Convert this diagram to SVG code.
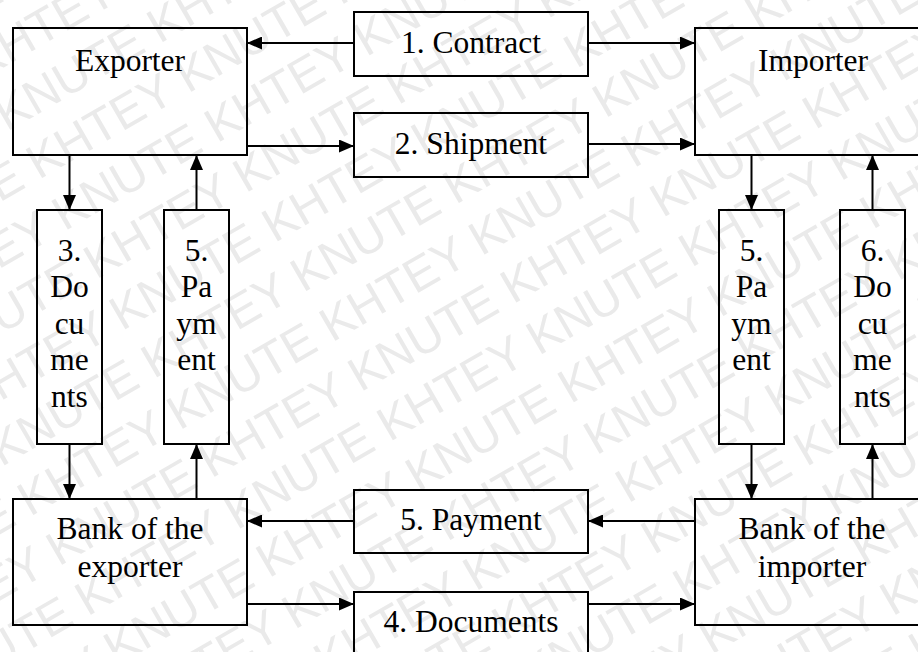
<svg xmlns="http://www.w3.org/2000/svg" width="918" height="652" viewBox="0 0 918 652">
  <style>
    .box { fill: none; stroke: #000; stroke-width: 2; }
    .lbl { font-family: "Liberation Serif", "Times New Roman", serif; font-size: 31.5px; fill: #000; text-anchor: middle; }
    .wm { font-family: "Liberation Sans", Arial, sans-serif; font-size: 48px; fill: #eaeaea; }
    .link { fill: none; stroke: #000; stroke-width: 2; marker-end: url(#arrow); }
  </style>
  <defs>
    <marker id="arrow" markerUnits="userSpaceOnUse" markerWidth="15" markerHeight="13" refX="15" refY="6.5" orient="auto">
      <path d="M0,0 L15,6.5 L0,13 Z" fill="#000"/>
    </marker>
  </defs>

  <rect width="918" height="652" fill="#fff"/>

  <!-- background watermark rows, alternating half-period offset -->
  <g id="watermark" transform="rotate(-30)">
    <text class="wm" x="-581" y="2.8" xml:space="preserve">KHTEY KNUTE KHTEY KNUTE KHTEY KNUTE KHTEY KNUTE KHTEY KNUTE KHTEY KNUTE</text>
    <text class="wm" x="-405" y="60.3" xml:space="preserve">KHTEY KNUTE KHTEY KNUTE KHTEY KNUTE KHTEY KNUTE KHTEY KNUTE KHTEY KNUTE</text>
    <text class="wm" x="-581" y="117.8" xml:space="preserve">KHTEY KNUTE KHTEY KNUTE KHTEY KNUTE KHTEY KNUTE KHTEY KNUTE KHTEY KNUTE</text>
    <text class="wm" x="-405" y="175.3" xml:space="preserve">KHTEY KNUTE KHTEY KNUTE KHTEY KNUTE KHTEY KNUTE KHTEY KNUTE KHTEY KNUTE</text>
    <text class="wm" x="-581" y="232.8" xml:space="preserve">KHTEY KNUTE KHTEY KNUTE KHTEY KNUTE KHTEY KNUTE KHTEY KNUTE KHTEY KNUTE</text>
    <text class="wm" x="-405" y="290.3" xml:space="preserve">KHTEY KNUTE KHTEY KNUTE KHTEY KNUTE KHTEY KNUTE KHTEY KNUTE KHTEY KNUTE</text>
    <text class="wm" x="-581" y="347.8" xml:space="preserve">KHTEY KNUTE KHTEY KNUTE KHTEY KNUTE KHTEY KNUTE KHTEY KNUTE KHTEY KNUTE</text>
    <text class="wm" x="-405" y="405.3" xml:space="preserve">KHTEY KNUTE KHTEY KNUTE KHTEY KNUTE KHTEY KNUTE KHTEY KNUTE KHTEY KNUTE</text>
    <text class="wm" x="-581" y="462.8" xml:space="preserve">KHTEY KNUTE KHTEY KNUTE KHTEY KNUTE KHTEY KNUTE KHTEY KNUTE KHTEY KNUTE</text>
    <text class="wm" x="-405" y="520.3" xml:space="preserve">KHTEY KNUTE KHTEY KNUTE KHTEY KNUTE KHTEY KNUTE KHTEY KNUTE KHTEY KNUTE</text>
    <text class="wm" x="-581" y="577.8" xml:space="preserve">KHTEY KNUTE KHTEY KNUTE KHTEY KNUTE KHTEY KNUTE KHTEY KNUTE KHTEY KNUTE</text>
    <text class="wm" x="-405" y="635.3" xml:space="preserve">KHTEY KNUTE KHTEY KNUTE KHTEY KNUTE KHTEY KNUTE KHTEY KNUTE KHTEY KNUTE</text>
    <text class="wm" x="-581" y="692.8" xml:space="preserve">KHTEY KNUTE KHTEY KNUTE KHTEY KNUTE KHTEY KNUTE KHTEY KNUTE KHTEY KNUTE</text>
    <text class="wm" x="-405" y="750.3" xml:space="preserve">KHTEY KNUTE KHTEY KNUTE KHTEY KNUTE KHTEY KNUTE KHTEY KNUTE KHTEY KNUTE</text>
    <text class="wm" x="-581" y="807.8" xml:space="preserve">KHTEY KNUTE KHTEY KNUTE KHTEY KNUTE KHTEY KNUTE KHTEY KNUTE KHTEY KNUTE</text>
    <text class="wm" x="-405" y="865.3" xml:space="preserve">KHTEY KNUTE KHTEY KNUTE KHTEY KNUTE KHTEY KNUTE KHTEY KNUTE KHTEY KNUTE</text>
    <text class="wm" x="-581" y="922.8" xml:space="preserve">KHTEY KNUTE KHTEY KNUTE KHTEY KNUTE KHTEY KNUTE KHTEY KNUTE KHTEY KNUTE</text>
    <text class="wm" x="-405" y="980.3" xml:space="preserve">KHTEY KNUTE KHTEY KNUTE KHTEY KNUTE KHTEY KNUTE KHTEY KNUTE KHTEY KNUTE</text>
    <text class="wm" x="-581" y="1037.8" xml:space="preserve">KHTEY KNUTE KHTEY KNUTE KHTEY KNUTE KHTEY KNUTE KHTEY KNUTE KHTEY KNUTE</text>
    <text class="wm" x="-405" y="1095.3" xml:space="preserve">KHTEY KNUTE KHTEY KNUTE KHTEY KNUTE KHTEY KNUTE KHTEY KNUTE KHTEY KNUTE</text>
  </g>

  <!-- parties -->
  <g id="exporter">
    <rect class="box" x="13" y="28" width="234" height="127"/>
    <text class="lbl" x="130" y="71">Exporter</text>
  </g>
  <g id="importer">
    <rect class="box" x="695" y="28" width="240" height="127"/>
    <text class="lbl" x="813" y="71">Importer</text>
  </g>
  <g id="bank-exporter">
    <rect class="box" x="13" y="499" width="234" height="126"/>
    <text class="lbl" x="130" y="539">Bank of the</text>
    <text class="lbl" x="130" y="577">exporter</text>
  </g>
  <g id="bank-importer">
    <rect class="box" x="695" y="499" width="240" height="126"/>
    <text class="lbl" x="812" y="539">Bank of the</text>
    <text class="lbl" x="812" y="577">importer</text>
  </g>

  <!-- flow steps -->
  <g id="contract">
    <rect class="box" x="354" y="12" width="234" height="64"/>
    <text class="lbl" x="471" y="53">1. Contract</text>
  </g>
  <g id="shipment">
    <rect class="box" x="354" y="113" width="234" height="64"/>
    <text class="lbl" x="471" y="154">2. Shipment</text>
  </g>
  <g id="documents-exp">
    <rect class="box" x="37" y="210" width="65" height="234"/>
    <text class="lbl" x="69.5" y="261">3.</text>
    <text class="lbl" x="69.5" y="297">Do</text>
    <text class="lbl" x="69.5" y="334">cu</text>
    <text class="lbl" x="69.5" y="370">me</text>
    <text class="lbl" x="69.5" y="407">nts</text>
  </g>
  <g id="payment-exp">
    <rect class="box" x="164" y="210" width="65" height="234"/>
    <text class="lbl" x="196.5" y="261">5.</text>
    <text class="lbl" x="196.5" y="297">Pa</text>
    <text class="lbl" x="196.5" y="334">ym</text>
    <text class="lbl" x="196.5" y="370">ent</text>
  </g>
  <g id="payment-imp">
    <rect class="box" x="719" y="210" width="65" height="234"/>
    <text class="lbl" x="751.5" y="261">5.</text>
    <text class="lbl" x="751.5" y="297">Pa</text>
    <text class="lbl" x="751.5" y="334">ym</text>
    <text class="lbl" x="751.5" y="370">ent</text>
  </g>
  <g id="documents-imp">
    <rect class="box" x="840" y="210" width="65" height="234"/>
    <text class="lbl" x="872.5" y="261">6.</text>
    <text class="lbl" x="872.5" y="297">Do</text>
    <text class="lbl" x="872.5" y="334">cu</text>
    <text class="lbl" x="872.5" y="370">me</text>
    <text class="lbl" x="872.5" y="407">nts</text>
  </g>
  <g id="payment-banks">
    <rect class="box" x="354" y="490" width="234" height="63"/>
    <text class="lbl" x="471" y="530">5. Payment</text>
  </g>
  <g id="documents-banks">
    <rect class="box" x="354" y="592" width="234" height="70"/>
    <text class="lbl" x="471" y="632">4. Documents</text>
  </g>

  <!-- connectors -->
  <g id="connectors">
    <line class="link" x1="354" y1="43" x2="247" y2="43"/>
    <line class="link" x1="588" y1="43" x2="695" y2="43"/>
    <line class="link" x1="247" y1="146" x2="354" y2="146"/>
    <line class="link" x1="588" y1="144" x2="695" y2="144"/>
    <line class="link" x1="69.5" y1="155" x2="69.5" y2="210"/>
    <line class="link" x1="69.5" y1="444" x2="69.5" y2="499"/>
    <line class="link" x1="196.5" y1="499" x2="196.5" y2="444"/>
    <line class="link" x1="196.5" y1="210" x2="196.5" y2="155"/>
    <line class="link" x1="751.5" y1="155" x2="751.5" y2="210"/>
    <line class="link" x1="751.5" y1="444" x2="751.5" y2="499"/>
    <line class="link" x1="872.5" y1="499" x2="872.5" y2="444"/>
    <line class="link" x1="872.5" y1="210" x2="872.5" y2="155"/>
    <line class="link" x1="695" y1="521" x2="588" y2="521"/>
    <line class="link" x1="354" y1="521" x2="247" y2="521"/>
    <line class="link" x1="247" y1="604" x2="354" y2="604"/>
    <line class="link" x1="588" y1="604" x2="695" y2="604"/>
  </g>
</svg>
